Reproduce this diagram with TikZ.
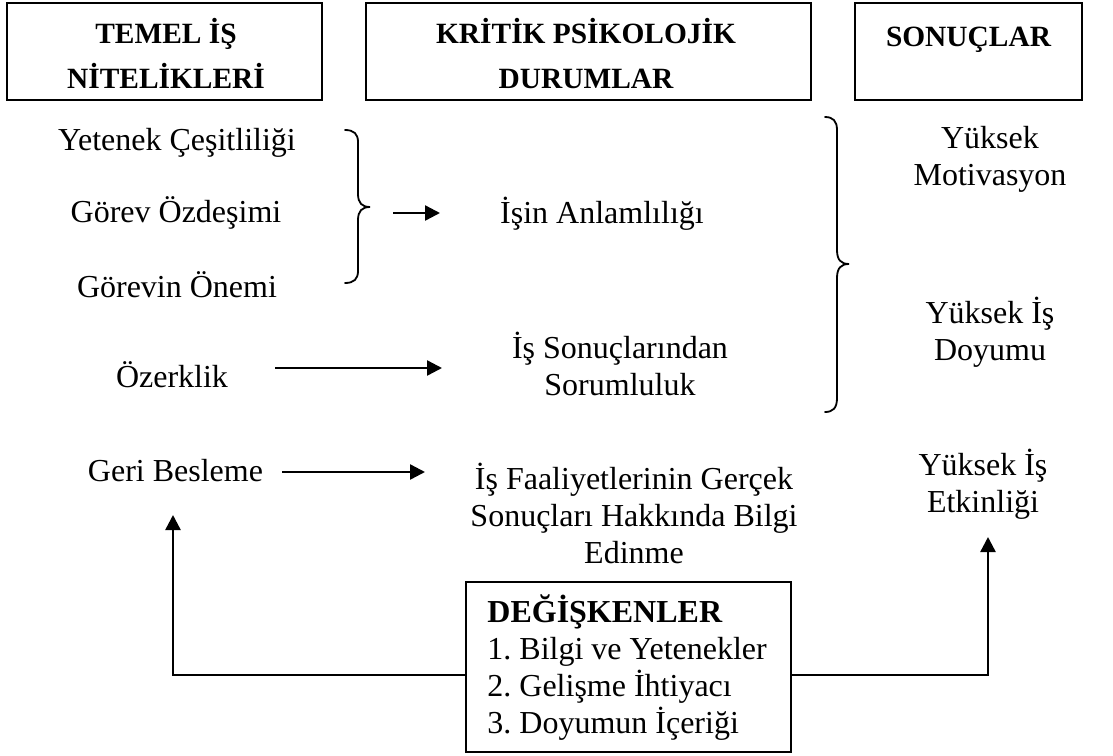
\documentclass[tikz,border=0pt]{standalone}
\usepackage{fontspec}
\setmainfont{Liberation Serif}
\usetikzlibrary{arrows.meta}
\frenchspacing
\begin{document}
\begin{tikzpicture}[x=0.5pt,y=-0.5pt,
  txt/.style={inner sep=0pt, align=center, font=\fontsize{16}{18.5}\selectfont,
    execute at begin node=\strut, execute at end node=\strut},
  hdr/.style={inner sep=0pt, align=center, font=\fontsize{14.7}{22.5}\selectfont\bfseries,
    execute at begin node=\strut, execute at end node=\strut},
  framebox/.style={draw, line width=1pt, inner sep=0pt},
  arr/.style={line width=1.2pt, -{Triangle[length=7.5pt,width=7.5pt]}},
  bracepath/.style={line width=0.9pt, line cap=round}
]
\path[use as bounding box] (0,0) rectangle (1113,755);

% column headers
\node[framebox, minimum width=157.5pt, minimum height=48.5pt] (h1) at (164.5,51.5) {};
\node[hdr] (h1t) at (166,60) {TEMEL İŞ\\NİTELİKLERİ};
\node[framebox, minimum width=222.5pt, minimum height=48.5pt] (h2) at (588.5,51.5) {};
\node[hdr] (h2t) at (586,60) {KRİTİK PSİKOLOJİK\\DURUMLAR};
\node[framebox, minimum width=113.5pt, minimum height=48.5pt] (h3) at (968.5,51.5) {};
\node[hdr] (h3t) at (968.5,37.5) {SONUÇLAR};

% core job characteristics
\node[txt] (yc) at (177,142.6) {Yetenek Çeşitliliği};
\node[txt] (go) at (176,214.6) {Görev Özdeşimi};
\node[txt] (gon) at (177,289.6) {Görevin Önemi};
\node[txt] (oz) at (172,379.6) {Özerklik};
\node[txt] (gb) at (175.5,473.6) {Geri Besleme};

% critical psychological states
\node[txt] (ia) at (602,215.6) {İşin Anlamlılığı};
\node[txt] (is) at (620,369.1) {İş Sonuçlarından\\Sorumluluk};
\node[txt] (if) at (634,519.3) {İş Faaliyetlerinin Gerçek\\Sonuçları Hakkında Bilgi\\Edinme};

% outcomes
\node[txt] (ym) at (990,161.6) {Yüksek\\Motivasyon};
\node[txt] (yd) at (990,334.1) {Yüksek İş\\Doyumu};
\node[txt] (ye) at (983,486.6) {Yüksek İş\\Etkinliği};

% moderators
\node[framebox, minimum width=162.5pt, minimum height=85pt] (dk) at (628.5,667) {};
\node[txt, align=left, anchor=west] (dkt) at (487,670)
  {\textbf{DEĞİŞKENLER}\\1. Bilgi ve Yetenekler\\2. Gelişme İhtiyacı\\3. Doyumun İçeriği};

% braces
\draw[bracepath] (345,130) .. controls (354,130) and (358,134) .. (358,142)
  -- (358,194) .. controls (358,203) and (362,207) .. (370,207)
  .. controls (362,207) and (358,211) .. (358,220)
  -- (358,271) .. controls (358,279) and (354,283) .. (345,283);
\draw[bracepath] (825,117) .. controls (833,117) and (837,121) .. (837,130)
  -- (837,250) .. controls (837,260) and (841,264) .. (849,264)
  .. controls (841,264) and (837,268) .. (837,278)
  -- (837,398) .. controls (837,408) and (833,412) .. (825,412);

% arrow end points
\coordinate (a1s) at (393,213);
\coordinate (a1e) at (440,213);
\coordinate (a2s) at (275,368);
\coordinate (a2e) at (442,368);
\coordinate (a3s) at (282,472);
\coordinate (a3e) at (425,472);
\coordinate (fbtip) at (173,515);
\coordinate (yetip) at (988,537);

\draw[arr] (a1s) -- (a1e);
\draw[arr] (a2s) -- (a2e);
\draw[arr] (a3s) -- (a3e);
\draw[arr] ([yshift=-4pt]dk.west) -| (fbtip);
\draw[arr] ([yshift=-4pt]dk.east) -| (yetip);
\end{tikzpicture}
\end{document}
